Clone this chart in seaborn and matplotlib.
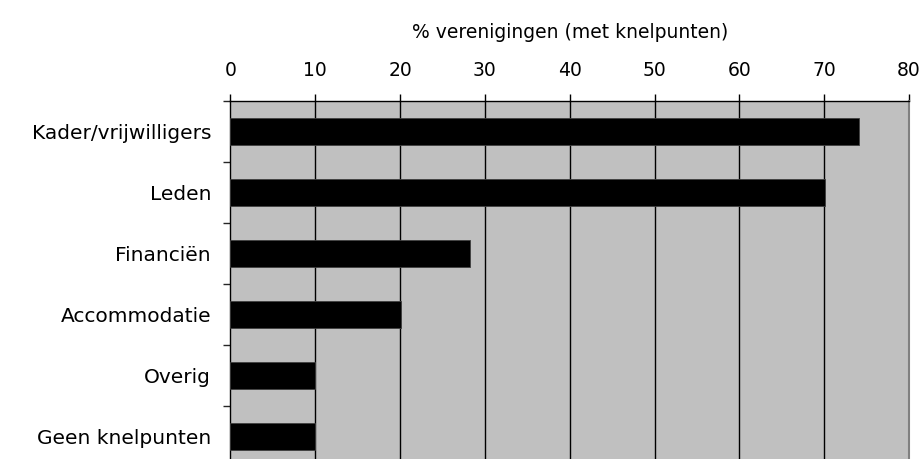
import matplotlib
matplotlib.use("Agg")
import matplotlib.pyplot as plt
import seaborn as sns
import pandas as pd
from matplotlib.ticker import FixedLocator

# Daten
categorieen = ["Kader/vrijwilligers", "Leden", "Financiën", "Accommodatie", "Overig", "Geen knelpunten"]
percentages = [74.1, 70.1, 28.2, 20.1, 10.0, 10.0]
x_ticks = [0, 10, 20, 30, 40, 50, 60, 70, 80]
x_titel = "% verenigingen (met knelpunten)"

df = pd.DataFrame({"Categorie": categorieen, "Percentage": percentages})

sns.set_style("white")
plt.rcParams["font.family"] = ["DejaVu Sans"]
plt.rcParams["text.color"] = "black"

fig = plt.figure(figsize=(9.23, 4.59), dpi=100)
ax = fig.add_axes([0.2497, -0.0174, 0.7351, 0.7974])
ax.set_facecolor("#C0C0C0")

# verticale rasterlijnen
for t in x_ticks[1:-1]:
    ax.axvline(t, color="black", linewidth=1.0, zorder=1)

sns.barplot(data=df, x="Percentage", y="Categorie", orient="h", color="black",
            width=0.43, edgecolor="#404040", linewidth=0.6, ax=ax, zorder=3)

ax.set_xlim(0, 80)
ax.set_ylim(len(categorieen) - 0.5, -0.5)
ax.xaxis.tick_top()
ax.xaxis.set_label_position("top")
ax.set_xticks(x_ticks)
ax.set_xlabel(x_titel, fontsize=13.5, labelpad=17, color="black")
ax.set_ylabel("")
ax.tick_params(axis="x", which="major", direction="out", length=5, width=1,
               labelsize=13.5, pad=10, top=True, bottom=False, colors="black")
ax.tick_params(axis="y", which="major", length=0, labelsize=14.5, pad=14, labelcolor="black")
ax.yaxis.set_minor_locator(FixedLocator([i + 0.5 for i in range(-1, len(categorieen))]))
ax.tick_params(axis="y", which="minor", direction="out", length=5, width=1, left=True)

for s in ["top", "left"]:
    ax.spines[s].set_color("black")
    ax.spines[s].set_linewidth(1.0)
ax.spines["right"].set_color("#808080")
ax.spines["right"].set_linewidth(1.5)
ax.spines["bottom"].set_visible(False)

fig.savefig("out.png", dpi=100)
plt.close(fig)
